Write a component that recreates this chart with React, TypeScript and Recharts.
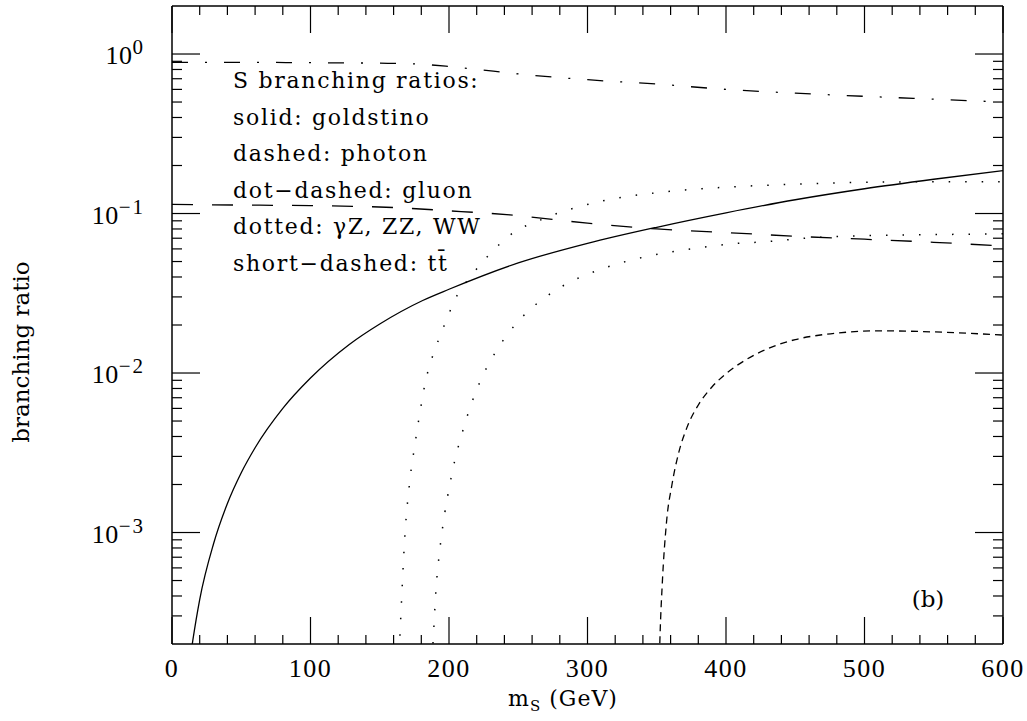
import React from 'react';
import { LineChart, Line, XAxis, YAxis, Customized } from 'recharts';

// ---- data ----
const goldstinoM = [13, 15, 20, 30, 40, 50, 60, 80, 100, 128, 150, 181, 200, 250, 300, 350, 400, 450, 500, 550, 600];
const goldstinoBR = [1.6e-4, 2.1e-4, 3.8e-4, 8.5e-4, 1.52e-3, 2.37e-3, 3.4e-3, 6.0e-3, 9.3e-3, 0.0151, 0.0203, 0.0285, 0.0335, 0.049, 0.065, 0.082, 0.101, 0.122, 0.143, 0.164, 0.186];

const photonM = [0, 50, 100, 160, 200, 244, 300, 350, 400, 450, 500, 550, 600];
const photonBR = [0.114, 0.113, 0.112, 0.109, 0.104, 0.098, 0.087, 0.08, 0.076, 0.072, 0.069, 0.066, 0.0625];

const gluonM = [0, 50, 100, 150, 175, 200, 232, 250, 300, 350, 400, 450, 500, 550, 600];
const gluonBR = [0.887, 0.887, 0.882, 0.876, 0.867, 0.835, 0.78, 0.75, 0.69, 0.648, 0.6, 0.568, 0.543, 0.521, 0.5];

const wwM = [163.5, 164.6, 168.2, 171.8, 175.5, 179.1, 182.7, 186.3, 189.9, 193.5, 198.6, 202.9, 217.3, 231.8, 242.6, 270, 309, 357, 405, 453, 502, 549, 600];
const wwBR = [1.4e-4, 2.28e-4, 9.7e-4, 2.14e-3, 3.61e-3, 5.72e-3, 8.57e-3, 0.0114, 0.014, 0.0171, 0.0219, 0.0272, 0.042, 0.0585, 0.0716, 0.094, 0.119, 0.137, 0.147, 0.153, 0.157, 0.158, 0.158];

const zzM = [187.7, 188.4, 190.6, 193.5, 197.1, 200.7, 204.3, 208.7, 213.7, 222.4, 234.7, 249.1, 258.5, 280.1, 309, 332.9, 357.4, 381.2, 405.1, 429.6, 453.4, 501.8, 549.5, 600];
const zzBR = [1.59e-4, 2.0e-4, 4.38e-4, 8.0e-4, 1.35e-3, 2.02e-3, 2.86e-3, 3.98e-3, 5.55e-3, 8.82e-3, 0.014, 0.0207, 0.025, 0.0343, 0.0445, 0.0514, 0.0569, 0.0611, 0.0647, 0.0666, 0.0696, 0.0727, 0.0737, 0.0747];

const ttM = [351.5, 352.4, 354, 357, 361, 366, 372, 380, 390, 400, 415, 430, 450, 470, 490, 510, 550, 600];
const ttBR = [1.2e-4, 2.3e-4, 4.8e-4, 1.15e-3, 2.0e-3, 3.2e-3, 4.6e-3, 6.3e-3, 8.2e-3, 9.9e-3, 0.0122, 0.0142, 0.0162, 0.0174, 0.0181, 0.0184, 0.0181, 0.0173];

const xTicks = [0, 20, 40, 60, 80, 100, 120, 140, 160, 180, 200, 220, 240, 260, 280, 300, 320, 340, 360, 380, 400, 420, 440, 460, 480, 500, 520, 540, 560, 580, 600];
const yTicks = [
  3e-4, 4e-4, 5e-4, 6e-4, 7e-4, 8e-4, 9e-4,
  1e-3, 2e-3, 3e-3, 4e-3, 5e-3, 6e-3, 7e-3, 8e-3, 9e-3,
  1e-2, 2e-2, 3e-2, 4e-2, 5e-2, 6e-2, 7e-2, 8e-2, 9e-2,
  1e-1, 2e-1, 3e-1, 4e-1, 5e-1, 6e-1, 7e-1, 8e-1, 9e-1,
  1,
];
const legendLines = [
  'S branching ratios:',
  'solid: goldstino',
  'dashed: photon',
  'dot\u2212dashed: gluon',
  'dotted: \u03b3Z, ZZ, WW',
  'short\u2212dashed: tt\u0304',
];

const zip = (ms: number[], brs: number[]) => ms.map((m, i) => ({ m, br: brs[i] }));
const goldstino = zip(goldstinoM, goldstinoBR);
const photon = zip(photonM, photonBR);
const gluon = zip(gluonM, gluonBR);
const ww = zip(wwM, wwBR);
const zz = zip(zzM, zzBR);
const tt = zip(ttM, ttBR);

const W = 1027;
const H = 721;
const TICK_FONT = '"Liberation Serif", serif';
const TEXT_FONT = '"DejaVu Serif", serif';

const isDecade = (v: number) => Math.abs(Math.log10(v) - Math.round(Math.log10(v))) < 1e-6;

const BottomTick = (p: any) => {
  const { x, y, payload } = p;
  const major = payload.value % 100 === 0;
  return (
    <g>
      <line x1={x} x2={x} y1={y} y2={y - (major ? 27 : 9)} stroke="#000" strokeWidth={1.2} />
      {major && (
        <text x={x} y={y + 33} textAnchor="middle" fontFamily={TICK_FONT} fontSize={26} letterSpacing={1.5} fill="#000">
          {payload.value}
        </text>
      )}
    </g>
  );
};

const TopTick = (p: any) => {
  const { x, y, payload } = p;
  const major = payload.value % 100 === 0;
  return <line x1={x} x2={x} y1={y} y2={y + (major ? 27 : 9)} stroke="#000" strokeWidth={1.2} />;
};

const LeftTick = (p: any) => {
  const { x, y, payload } = p;
  const major = isDecade(payload.value);
  const e = Math.round(Math.log10(payload.value));
  return (
    <g>
      <line x1={x} x2={x + (major ? 28 : 10)} y1={y} y2={y} stroke="#000" strokeWidth={1.2} />
      {major && (
        <text x={x - 27} y={y + 10} textAnchor="end" fontFamily={TICK_FONT} fill="#000">
          <tspan fontSize={26} letterSpacing={0.5}>10</tspan>
          <tspan fontSize={21} dy={-10} letterSpacing={2}>{e < 0 ? '\u2212' + Math.abs(e) : String(e)}</tspan>
        </text>
      )}
    </g>
  );
};

const RightTick = (p: any) => {
  const { x, y, payload } = p;
  const major = isDecade(payload.value);
  return <line x1={x} x2={x - (major ? 28 : 10)} y1={y} y2={y} stroke="#000" strokeWidth={1.2} />;
};

const Overlay = () => (
  <g fill="#000">
    {legendLines.map((t, i) => (
      <text key={i} x={233} y={88 + i * 36.6} fontFamily={TEXT_FONT} fontSize={22} letterSpacing={1.7}>
        {t}
      </text>
    ))}
    <text x={928} y={607} textAnchor="middle" fontFamily={TEXT_FONT} fontSize={23}>(b)</text>
    <text x={563} y={706} textAnchor="middle" fontFamily={TEXT_FONT} fontSize={22} letterSpacing={1}>
      <tspan>m</tspan>
      <tspan fontSize={15} dy={5}>S</tspan>
      <tspan dy={-5}> (GeV)</tspan>
    </text>
    <text
      x={0}
      y={0}
      transform="translate(29,352) rotate(-90)"
      textAnchor="middle"
      fontFamily={TEXT_FONT}
      fontSize={23}
    >
      branching ratio
    </text>
  </g>
);

const axisLine = { stroke: '#000', strokeWidth: 1.5 };

export default function App() {
  return (
    <div style={{ position: 'absolute', left: 0, top: 0, width: W, height: H, background: '#fff' }}>
      <LineChart width={W} height={H} margin={{ top: 5, right: 23, bottom: 76, left: 171 }}>
        <XAxis
          xAxisId="bottom"
          dataKey="m"
          type="number"
          domain={[0, 600]}
          allowDataOverflow
          ticks={xTicks}
          interval={0}
          height={1}
          tickSize={0}
          tickMargin={0}
          tickLine={false}
          axisLine={axisLine}
          tick={<BottomTick />}
        />
        <XAxis
          xAxisId="top"
          orientation="top"
          dataKey="m"
          type="number"
          domain={[0, 600]}
          allowDataOverflow
          ticks={xTicks}
          interval={0}
          height={1}
          tickSize={0}
          tickMargin={0}
          tickLine={false}
          axisLine={axisLine}
          tick={<TopTick />}
        />
        <YAxis
          yAxisId="left"
          type="number"
          scale="log"
          domain={[2e-4, 2]}
          allowDataOverflow
          ticks={yTicks}
          interval={0}
          width={1}
          tickSize={0}
          tickMargin={0}
          tickLine={false}
          axisLine={axisLine}
          tick={<LeftTick />}
        />
        <YAxis
          yAxisId="right"
          orientation="right"
          type="number"
          scale="log"
          domain={[2e-4, 2]}
          allowDataOverflow
          ticks={yTicks}
          interval={0}
          width={1}
          tickSize={0}
          tickMargin={0}
          tickLine={false}
          axisLine={axisLine}
          tick={<RightTick />}
        />
        <Line xAxisId="bottom" yAxisId="left" data={goldstino} dataKey="br" type="monotone" stroke="#000" strokeWidth={1.3} dot={false} isAnimationActive={false} />
        <Line xAxisId="bottom" yAxisId="left" data={photon} dataKey="br" type="monotone" stroke="#000" strokeWidth={1.3} strokeDasharray="21 19" dot={false} isAnimationActive={false} />
        <Line xAxisId="top" yAxisId="right" data={gluon} dataKey="br" type="monotone" stroke="#000" strokeWidth={1.3} strokeDasharray="16 17 2 17" dot={false} isAnimationActive={false} />
        <Line xAxisId="bottom" yAxisId="left" data={ww} dataKey="br" type="monotone" stroke="#000" strokeWidth={1.5} strokeDasharray="1.5 15" dot={false} isAnimationActive={false} />
        <Line xAxisId="bottom" yAxisId="left" data={zz} dataKey="br" type="monotone" stroke="#000" strokeWidth={1.5} strokeDasharray="1.5 15" dot={false} isAnimationActive={false} />
        <Line xAxisId="bottom" yAxisId="left" data={tt} dataKey="br" type="monotone" stroke="#000" strokeWidth={1.3} strokeDasharray="7 5" dot={false} isAnimationActive={false} />
        <Customized component={Overlay} />
      </LineChart>
    </div>
  );
}
